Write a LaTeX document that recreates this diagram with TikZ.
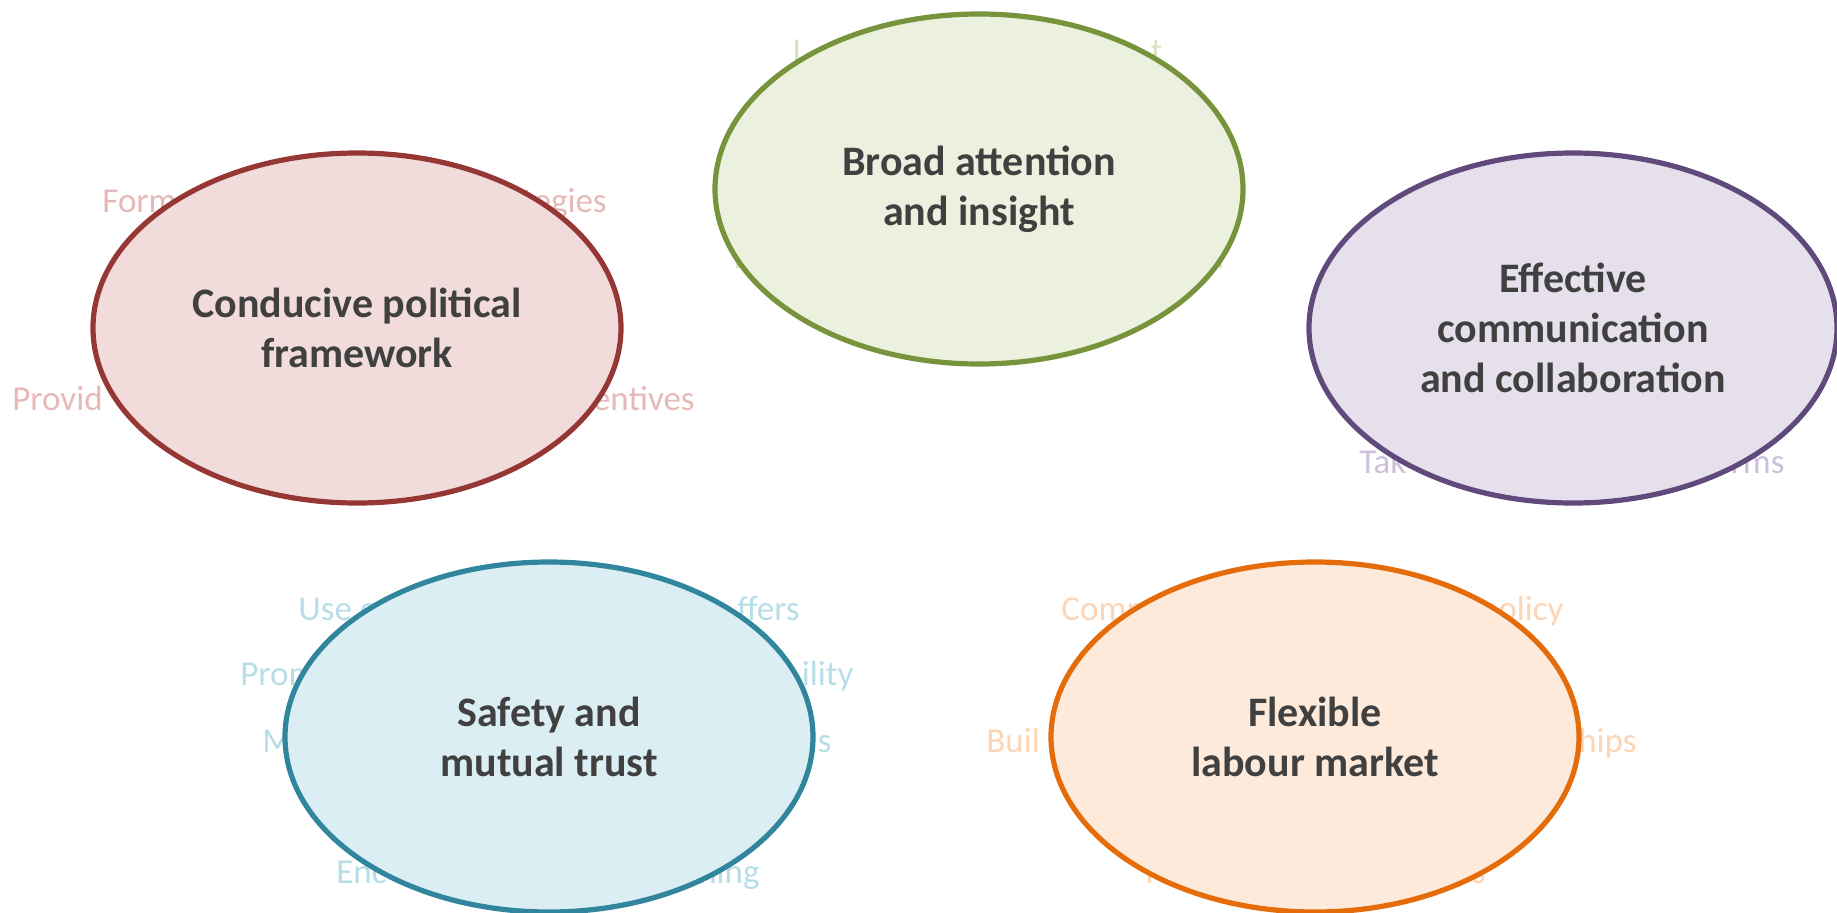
\documentclass[tikz,border=0pt]{standalone}
\usepackage{fontspec}
\setmainfont{Carlito}
\usetikzlibrary{shapes.geometric}

\definecolor{darktext}{HTML}{404040}
\definecolor{red line}{HTML}{953735}
\definecolor{red fill}{HTML}{F2DCDB}
\definecolor{red hint}{HTML}{E6B9B8}
\definecolor{green line}{HTML}{77933C}
\definecolor{green fill}{HTML}{EBF1DE}
\definecolor{green hint}{HTML}{D7E4BD}
\definecolor{purple line}{HTML}{604A7B}
\definecolor{purple fill}{HTML}{E5E0EC}
\definecolor{purple hint}{HTML}{CCC1DA}
\definecolor{blue line}{HTML}{31859C}
\definecolor{blue fill}{HTML}{DBEEF4}
\definecolor{blue hint}{HTML}{B7DEE8}
\definecolor{orange line}{HTML}{E46C0A}
\definecolor{orange fill}{HTML}{FDEADA}
\definecolor{orange hint}{HTML}{FCD5B5}

\tikzset{%
  every goal/.style={
    ellipse,
    draw,
    line width=2.6pt,
    minimum width=264pt,
    minimum height=175pt,
    inner sep=0pt,
    align=center,
    text=darktext,
    font=\bfseries\fontsize{21}{25}\selectfont
  },
  hint left/.style={
    anchor=base west,
    inner sep=0pt,
    font=\fontsize{17.5}{21}\selectfont
  },
  hint right/.style={
    anchor=base east,
    inner sep=0pt,
    font=\fontsize{17.5}{21}\selectfont
  },
}

\begin{document}
\begin{tikzpicture}[x=0.5pt, y=-0.5pt]
\useasboundingbox (0,0) rectangle (1837,912);

% faded lines behind the goals
\foreach \t/\x/\y/\c [count=\i] in {Form/102/212/red, Provid/12/410/red,
    I/792/62/green, I/733/268/green, Tak/1359/473/purple,
    Use o/298/620/blue, Prom/240/685/blue, M/262/752/blue, Enc/336/883/blue,
    Comm/1061/620/orange, Buil/986/752/orange, I/1145/883/orange}
  \node [hint left, text=\c\space hint] (hintl-\i) at (\x,\y) {\t};

\foreach \t/\x/\y/\c [count=\i] in {tegies/607/212/red, entives/695/410/red,
    t/1163/62/green, l/1225/268/green, rms/1785/473/purple,
    ffers/800/620/blue, ility/854/685/blue, s/832/752/blue, ning/760/883/blue,
    policy/1564/620/orange, hips/1637/752/orange, s/1486/883/orange}
  \node [hint right, text=\c\space hint] (hintr-\i) at (\x,\y) {\t};

% goals
\foreach \m/\x/\y/\c/\l in {
    political/357/328/red/{Conducive political\\framework},
    attention/979/189/green/{Broad attention\\and insight},
    communication/1573/328/purple/{Effective\\communication\\and collaboration},
    trust/549/737/blue/{Safety and\\mutual trust},
    labour/1315/737/orange/{Flexible\\labour market}}
  \node [every goal, draw=\c\space line, fill=\c\space fill] (goal-\m) at (\x,\y) {\l};

\end{tikzpicture}
\end{document}
